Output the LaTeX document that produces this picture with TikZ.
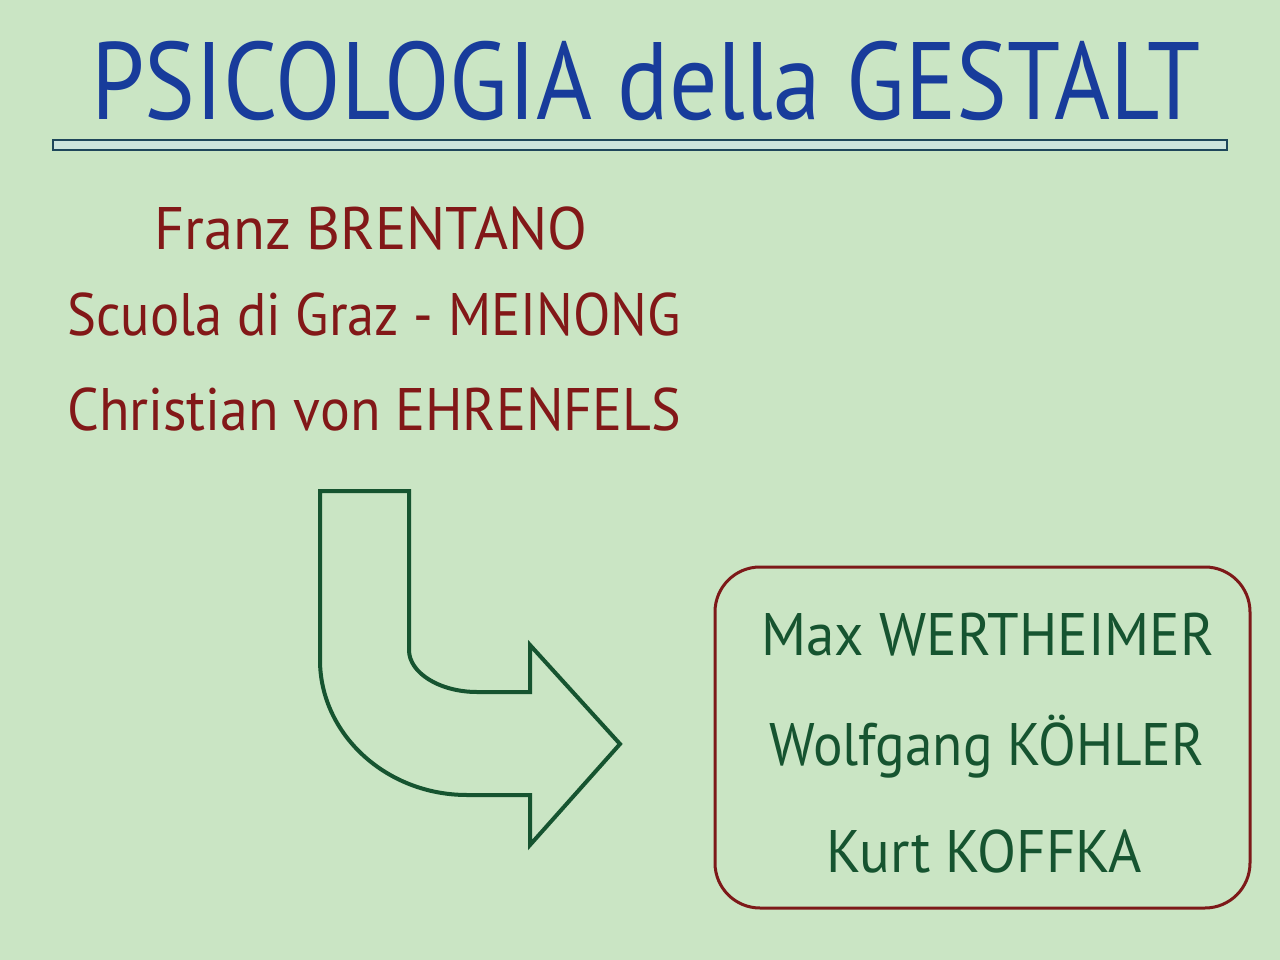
\documentclass[tikz,border=0pt]{standalone}
\usepackage{fontspec}
\usepackage{graphicx}
\setmainfont{PT Sans}
\definecolor{bg}{RGB}{202,229,196}
\definecolor{titleblue}{RGB}{24,60,155}
\definecolor{darkred}{RGB}{130,24,24}
\definecolor{darkgreen}{RGB}{22,84,48}
\definecolor{rulefill}{RGB}{205,228,220}
\definecolor{ruleline}{RGB}{30,70,90}
\definecolor{boxred}{RGB}{125,25,25}
\tikzset{
  titletext/.style={text=titleblue, font=\fontsize{110}{110}\selectfont, inner sep=0, anchor=base},
  redtext/.style={text=darkred, font=\fontsize{60}{60}\selectfont, inner sep=0, anchor=base},
  greentext/.style={text=darkgreen, font=\fontsize{60}{60}\selectfont, inner sep=0, anchor=base},
  arrowline/.style={draw=darkgreen, line width=4pt, line join=miter},
  namebox/.style={draw=boxred, line width=3pt, rounded corners=45pt, minimum width=535pt, minimum height=341pt, inner sep=0},
}
\begin{document}
\begin{tikzpicture}[x=1pt,y=-1pt]
\fill[bg] (0,0) rectangle (1280,960);
\useasboundingbox (0,0) rectangle (1280,960);
\node[titletext] (title) at (646,120) {\scalebox{0.87}[1]{PSICOLOGIA della GESTALT}};
\node[draw=ruleline, fill=rulefill, line width=1.5pt, minimum width=1174pt, minimum height=10pt, inner sep=0] (rule) at (640,145) {};
\node[redtext] (brentano) at (371,250) {\scalebox{0.97}[1]{Franz BRENTANO}};
\node[redtext] (meinong) at (374,335) {\scalebox{0.91}[1]{Scuola di Graz - MEINONG}};
\node[redtext] (ehrenfels) at (374,430) {\scalebox{0.93}[1]{Christian von EHRENFELS}};
\draw[arrowline] (320,491) -- (409,491) -- (409,650)
  .. controls (409,673) and (440,692) .. (477,692)
  -- (530,692) -- (530,645) -- (620,744) -- (530,845) -- (530,795) -- (467,795)
  .. controls (386,795) and (320,734) .. (320,660) -- cycle;
\node[namebox] (box) at (982.5,737.5) {};
\node[greentext] (wertheimer) at (988,655) {\scalebox{0.95}[1]{Max WERTHEIMER}};
\node[greentext] (kohler) at (987,765) {\scalebox{0.92}[1]{Wolfgang KÖHLER}};
\node[greentext] (koffka) at (984,872) {\scalebox{0.95}[1]{Kurt KOFFKA}};
\end{tikzpicture}
\end{document}
